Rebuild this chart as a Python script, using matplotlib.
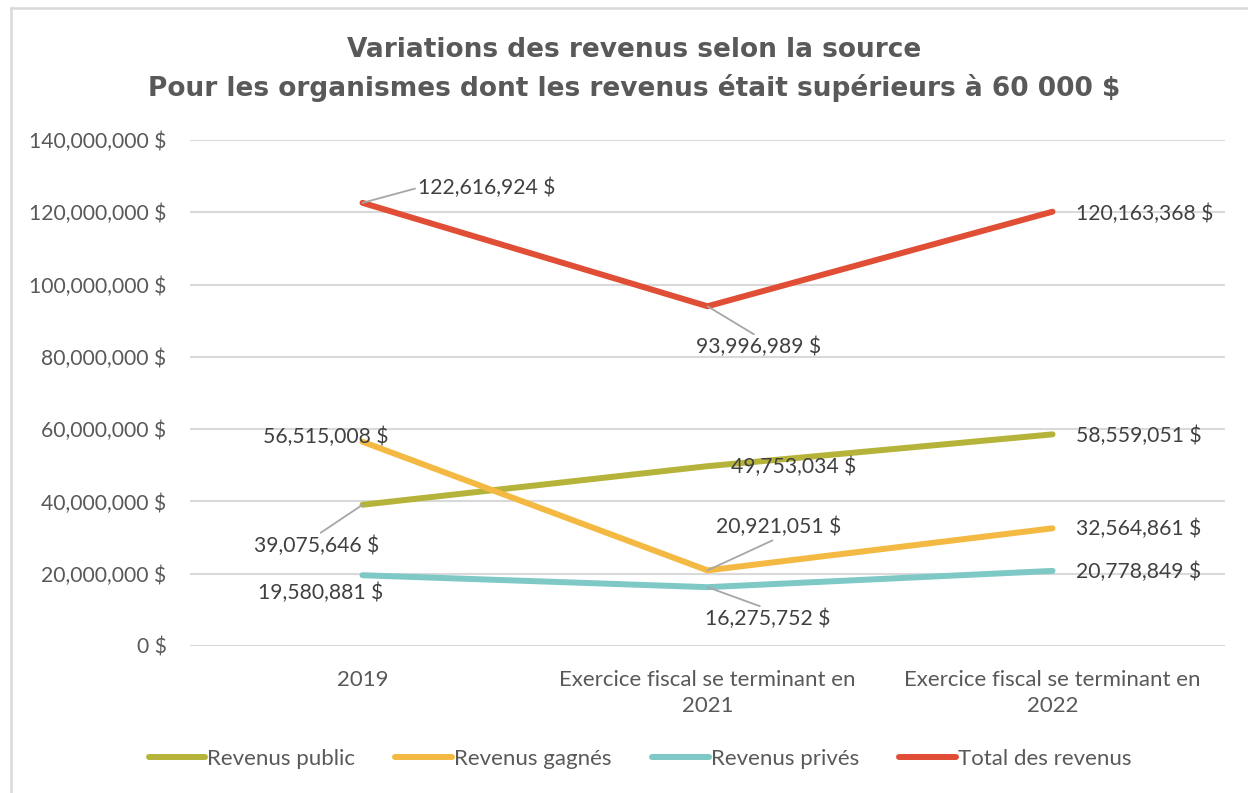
import matplotlib
matplotlib.use("Agg")
import matplotlib.pyplot as plt
from matplotlib.lines import Line2D

categories = ["2019", "Exercice fiscal se terminant en\n2021", "Exercice fiscal se terminant en\n2022"]
series_names = ["Revenus public", "Revenus gagnés", "Revenus privés", "Total des revenus"]
revenus_public = [39075646, 49753034, 58559051]
revenus_gagnes = [56515008, 20921051, 32564861]
revenus_prives = [19580881, 16275752, 20778849]
total_revenus = [122616924, 93996989, 120163368]
y_ticks = [0, 20000000, 40000000, 60000000, 80000000, 100000000, 120000000, 140000000]

colors = ["#B5B33A", "#F4B942", "#7EC8C6", "#E04E35"]
series = [revenus_public, revenus_gagnes, revenus_prives, total_revenus]

TXT = "#595959"
LBL = "#404040"
FONT = ["Lato", "DejaVu Sans"]
FS_NUM = 15.2
FS_TXT = 16.0

def fmt(v):
    return f"{v:,.0f} $"

fig = plt.figure(figsize=(12.48, 7.93), dpi=100)
ax = fig.add_axes([190/1248, 1-646/793, 1035/1248, (646-140)/793])

x = list(range(len(categories)))
for vals, name, c in zip(series, series_names, colors):
    ax.plot(x, vals, color=c, lw=4.3, solid_capstyle="round", label=name, zorder=3)

ax.set_xlim(-0.5, 2.5)
ax.set_ylim(0, 140000000)
ax.set_yticks(y_ticks)
ax.set_yticklabels([fmt(v) for v in y_ticks], fontsize=FS_NUM, color=TXT, family=FONT)
ax.set_xticks(x)
ax.set_xticklabels(categories, fontsize=FS_TXT, color=TXT, family=FONT, linespacing=1.4)
ax.tick_params(axis="both", length=0)
ax.tick_params(axis="y", pad=17)
ax.tick_params(axis="x", pad=17)
ax.yaxis.grid(True, color="#d9d9d9", lw=1.5, zorder=0)
ax.set_axisbelow(True)
for s in ax.spines.values():
    s.set_visible(False)

# data labels: (series index, point index, dx, dy, ha, leader relpos or None)
labels = [
    (3, 0, 124, 15, "center", (0, 0.5)),
    (3, 1, 51, -41, "center", (0.5, 1)),
    (3, 2, 23, -2, "left", None),
    (1, 0, -37, 5, "center", None),
    (0, 0, -46, -41, "center", (0.5, 1)),
    (2, 0, -42, -18, "center", None),
    (0, 1, 86, -1, "center", None),
    (1, 1, 71, 43, "center", (0.5, 0)),
    (2, 1, 60, -32, "center", (0.5, 1)),
    (0, 2, 23, -2, "left", None),
    (1, 2, 23, -1, "left", None),
    (2, 2, 23, -1, "left", None),
]
for si, pi, dx, dy, ha, rel in labels:
    v = series[si][pi]
    kw = {}
    if rel is not None:
        kw["arrowprops"] = dict(arrowstyle="-", color="#a6a6a6", lw=1.3,
                                relpos=rel, shrinkA=0, shrinkB=0)
    ax.annotate(fmt(v), xy=(pi, v), xytext=(dx, dy), textcoords="offset pixels",
                ha=ha, va="center", fontsize=FS_NUM, color=LBL, family=FONT,
                zorder=5, **kw)

fig.text(634/1248, 1-50/793, "Variations des revenus selon la source",
         ha="center", va="center", fontsize=19, fontweight="bold", color=TXT,
         family=["DejaVu Sans"])
fig.text(634/1248, 1-88/793, "Pour les organismes dont les revenus était supérieurs à 60 000 $",
         ha="center", va="center", fontsize=19, fontweight="bold", color=TXT,
         family=["DejaVu Sans"])

leg = fig.legend(loc="center", bbox_to_anchor=(640/1248, 1-759/793), ncol=4,
                 frameon=False, handlelength=2.55, handletextpad=0.1,
                 columnspacing=1.8, prop={"family": FONT, "size": FS_TXT})
for t in leg.get_texts():
    t.set_color(TXT)

# outer chart frame (left and top edges visible)
fig.add_artist(Line2D([11/1248, 11/1248], [0, 1-8/793], transform=fig.transFigure,
                      color="#d9d9d9", lw=1.8))
fig.add_artist(Line2D([11/1248, 1], [1-8/793, 1-8/793], transform=fig.transFigure,
                      color="#d9d9d9", lw=1.8))

fig.savefig("out.png", dpi=100)
